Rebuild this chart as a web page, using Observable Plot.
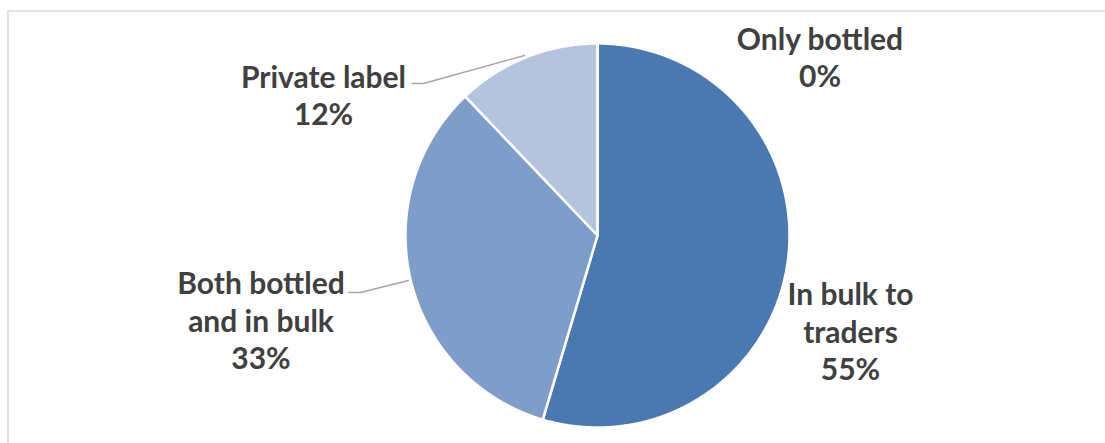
<!DOCTYPE html>
<html><head><meta charset="utf-8">
<script src="https://cdn.jsdelivr.net/npm/d3@7"></script>
<script src="https://cdn.jsdelivr.net/npm/@observablehq/plot@0.6"></script>
<style>html,body{margin:0;padding:0;background:#fff;overflow:hidden}</style>
</head><body><div id="chart"></div>
<script>
// ---- data ----
const categories = ["In bulk to traders", "Both bottled and in bulk", "Private label", "Only bottled"];
const shares = [54.6, 33.3, 12.1, 0];
const labelNames = ["In bulk to\ntraders", "Both bottled\nand in bulk", "Private label", "Only bottled"];
const colors = ["#4A78B0", "#7F9DC9", "#B4C3DE", "#C9D3E8"];

// ---- layout (pixel-like data coords) ----
const cx = 597, cy = 235, R = 192;
const labelAt = [[850, 330], [260.5, 319], [323, 94], [819.5, 56]];
const leaderAt = [
  null,
  [[348, 292], [360, 292], [408, 280]],
  [[411.5, 83], [423, 83], [524, 55]],
  null
];

const arcs = d3.pie().sort(null).value(d => d)(shares);
const slicePts = [];
arcs.forEach((a, i) => {
  const cat = categories[i];
  slicePts.push({cat, x: cx, y: cy});
  const n = Math.max(2, Math.ceil((a.endAngle - a.startAngle) / 0.005));
  for (let k = 0; k <= n; k++) {
    const t = a.startAngle + (a.endAngle - a.startAngle) * k / n;
    slicePts.push({cat, x: cx + R * Math.sin(t), y: cy - R * Math.cos(t)});
  }
});

const labels = categories.map((c, i) => ({
  x: labelAt[i][0], y: labelAt[i][1],
  text: labelNames[i] + "\n" + Math.round(shares[i]) + "%"
}));
const leaders = [];
leaderAt.forEach((l, i) => { if (l) l.forEach(p => leaders.push({id: i, x: p[0], y: p[1]})); });

const chart = Plot.plot({
  width: 1105, height: 443, margin: 0,
  x: {domain: [0, 1105], axis: null},
  y: {domain: [443, 0], axis: null},
  color: {domain: categories, range: colors},
  marks: [
    Plot.frame({stroke: "#D9D9D9", strokeWidth: 1.5, insetLeft: 7.5, insetTop: 10.5, insetRight: -20, insetBottom: -20}),
    Plot.line(slicePts, {x: "x", y: "y", z: "cat", fill: "cat", stroke: "#fff", strokeWidth: 2.5, curve: "linear-closed", strokeLinejoin: "miter"}),
    Plot.line(leaders, {x: "x", y: "y", z: "id", stroke: "#A6A6A6", strokeWidth: 1.3}),
    Plot.text(labels, {x: "x", y: "y", text: "text", fontSize: 30, fontWeight: 700, fill: "#404040", lineHeight: 1.25, fontFamily: "Lato", textAnchor: "middle"})
  ]
});
document.getElementById("chart").appendChild(chart);
</script></body></html>
